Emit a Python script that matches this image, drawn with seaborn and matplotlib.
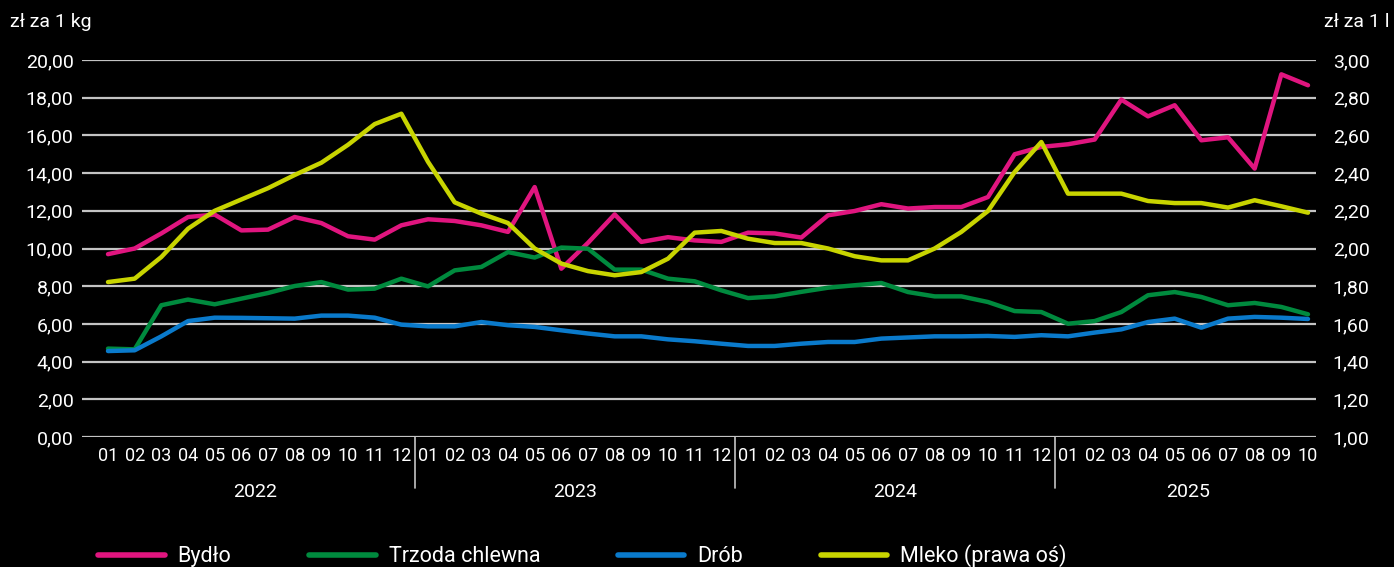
import numpy as np
import pandas as pd
import matplotlib
matplotlib.use("Agg")
import matplotlib.pyplot as plt
import matplotlib.transforms as mtransforms
from matplotlib.lines import Line2D
import seaborn as sns

years = ["2022", "2023", "2024", "2025"]
months_per_year = [12, 12, 12, 10]
month_labels = [f"{m:02d}" for n in months_per_year for m in range(1, n + 1)]

bydlo = [9.7, 10.0, 10.8, 11.67, 11.8, 10.96, 11.0, 11.67, 11.35, 10.65, 10.47, 11.23,
         11.55, 11.46, 11.23, 10.88, 13.26, 8.93, 10.3, 11.81, 10.35, 10.6, 10.43, 10.35,
         10.84, 10.8, 10.58, 11.76, 11.99, 12.35, 12.12, 12.2, 12.2, 12.73, 15.0, 15.39,
         15.53, 15.78, 17.9, 17.01, 17.6, 15.74, 15.9, 14.24, 19.24, 18.66]
trzoda = [4.69, 4.65, 6.99, 7.29, 7.04, 7.34, 7.64, 8.01, 8.22, 7.82, 7.87, 8.4,
          7.99, 8.84, 9.02, 9.81, 9.52, 10.05, 9.99, 8.88, 8.88, 8.4, 8.26, 7.78,
          7.37, 7.46, 7.7, 7.92, 8.05, 8.17, 7.69, 7.46, 7.46, 7.16, 6.68, 6.63,
          6.01, 6.15, 6.63, 7.52, 7.69, 7.43, 6.99, 7.11, 6.9, 6.51]
drob = [4.56, 4.6, 5.34, 6.15, 6.33, 6.32, 6.3, 6.28, 6.44, 6.44, 6.33, 5.96,
        5.87, 5.87, 6.1, 5.93, 5.84, 5.66, 5.49, 5.34, 5.34, 5.18, 5.08, 4.95,
        4.83, 4.83, 4.95, 5.04, 5.04, 5.22, 5.28, 5.34, 5.34, 5.36, 5.31, 5.4,
        5.34, 5.54, 5.71, 6.1, 6.28, 5.8, 6.28, 6.37, 6.33, 6.26]
mleko = [1.822, 1.84, 1.955, 2.105, 2.2, 2.26, 2.32, 2.39, 2.455, 2.55, 2.66, 2.715,
         2.46, 2.245, 2.185, 2.135, 2.0, 1.92, 1.88, 1.858, 1.875, 1.946, 2.084, 2.093,
         2.052, 2.029, 2.029, 2.0, 1.959, 1.937, 1.937, 2.0, 2.088, 2.199, 2.406, 2.565,
         2.291, 2.291, 2.291, 2.252, 2.241, 2.241, 2.217, 2.256, 2.224, 2.19]

series_names = ["Bydło", "Trzoda chlewna", "Drób", "Mleko (prawa oś)"]
colors = ["#e0157f", "#008a3e", "#0a7acb", "#c8d400"]

left_ticks = np.arange(0, 21, 2)
right_ticks = np.arange(1.0, 3.01, 0.2)

sns.set_style("dark")
plt.rcParams["font.family"] = ["Roboto", "DejaVu Sans"]
plt.rcParams["text.color"] = "white"

idx = np.arange(len(month_labels))
df = pd.DataFrame({"idx": idx, "Bydło": bydlo, "Trzoda chlewna": trzoda, "Drób": drob})
df_long = df.melt(id_vars="idx", var_name="seria", value_name="cena")
df_mleko = pd.DataFrame({"idx": idx, "cena": mleko})

W, H = 1394, 567
fig = plt.figure(figsize=(W / 100, H / 100), dpi=100, facecolor="black")
ax = fig.add_axes([82 / W, 1 - 437 / H, (1316 - 82) / W, (437 - 60) / H])
ax.set_facecolor("black")

sns.lineplot(data=df_long, x="idx", y="cena", hue="seria", palette=colors[:3],
             hue_order=series_names[:3], linewidth=3.2, ax=ax, legend=False, zorder=3)

ax2 = ax.twinx()
sns.lineplot(data=df_mleko, x="idx", y="cena", color=colors[3], linewidth=3.2,
             ax=ax2, legend=False, zorder=3)

ax.set_xlim(-0.975, 45.3)
ax.set_ylim(0, 20)
ax2.set_ylim(1, 3)

for a in (ax, ax2):
    for s in a.spines.values():
        s.set_visible(False)
    a.set_xlabel("")
    a.set_ylabel("")
    a.grid(False)

for t in left_ticks:
    ax.axhline(t, color="#c4c4c4", linewidth=1.6, zorder=1)

ax.set_yticks(left_ticks)
ax.set_yticklabels([f"{t:.2f}".replace(".", ",") for t in left_ticks])
ax2.set_yticks(right_ticks)
ax2.set_yticklabels([f"{t:.2f}".replace(".", ",") for t in right_ticks])
ax.tick_params(axis="y", colors="white", labelsize=14, length=0, pad=6)
ax2.tick_params(axis="y", colors="white", labelsize=14, length=0, pad=12)

ax.set_xticks(idx)
ax.set_xticklabels(month_labels)
ax.tick_params(axis="x", colors="white", labelsize=13, length=0, pad=7)

# year labels and separators under the month ticks
trans = mtransforms.blended_transform_factory(ax.transData, ax.transAxes)
start = 0
for year, n in zip(years, months_per_year):
    ax.text(start + (n - 1) / 2, -0.145, year, transform=trans, ha="center", va="center",
            fontsize=14, color="white")
    if start > 0:
        ax.plot([start - 0.5, start - 0.5], [0, -0.135], transform=trans, color="#c4c4c4",
                linewidth=1.2, clip_on=False)
    start += n

fig.text(10 / W, 1 - 22 / H, "zł za 1 kg", fontsize=14, va="center", ha="left")
fig.text(1390 / W, 1 - 22 / H, "zł za 1 l", fontsize=14, va="center", ha="right")

handles = [Line2D([], [], color=c, linewidth=4) for c in colors]
fig.legend(handles, series_names, loc="center left", bbox_to_anchor=(98 / W, 1 - 556 / H),
           ncol=4, frameon=False, fontsize=15.5, handlelength=3.1, handletextpad=0.6,
           columnspacing=3.6, labelcolor="white", borderpad=0, borderaxespad=0)

fig.savefig("out.png", dpi=100, facecolor="black")
